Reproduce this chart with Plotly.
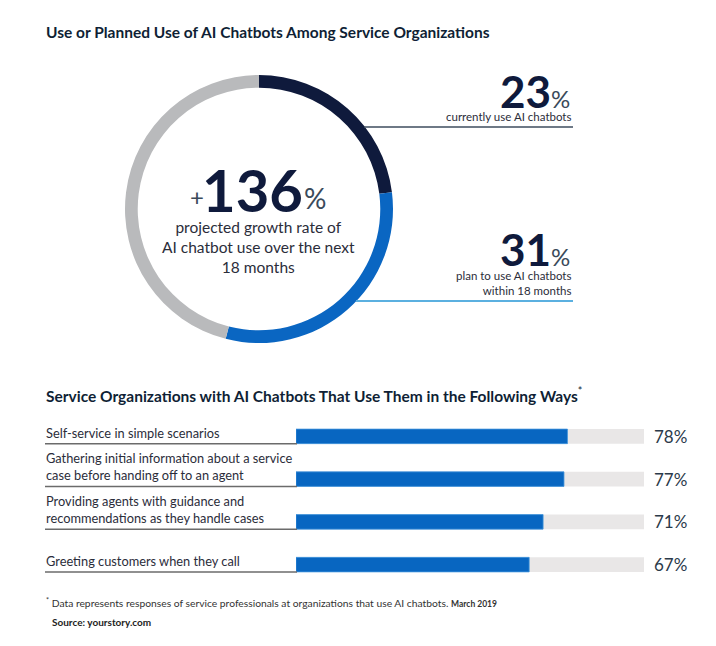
import plotly.graph_objects as go

W, H = 716, 646

# ---- data ----
donut_labels = ["Currently use AI chatbots", "Plan to use within 18 months", "Other"]
donut_values = [23, 31, 46]
donut_colors = ["#0f1a3c", "#0a66c2", "#b9babc"]

growth_value = "136"
current_pct = "23"
planned_pct = "31"

bar_categories = [
    "Self-service in simple scenarios",
    "Gathering initial information about a service<br>case before handing off to an agent",
    "Providing agents with guidance and<br>recommendations as they handle cases",
    "Greeting customers when they call",
]
bar_values = [78, 77, 71, 67]
bar_max = [100, 100, 100, 100]
rows = [0, 1, 2, 3]

def px(x):
    return x / W

def py(y):
    return 1 - y / H

fig = go.Figure()

# donut
cx, cy, r = 259, 209, 134
fig.add_trace(go.Pie(
    labels=donut_labels, values=donut_values, hole=0.905, sort=False,
    direction="clockwise", rotation=0,
    marker=dict(colors=donut_colors, line=dict(width=0)),
    textinfo="none", hoverinfo="label+value", showlegend=False,
    domain=dict(x=[px(cx - r), px(cx + r)], y=[py(cy + r), py(cy - r)]),
))

# bars
fig.add_trace(go.Bar(
    x=bar_max, y=rows, orientation="h", width=0.34,
    marker=dict(color="#e9e7e7", line=dict(width=0)),
    hoverinfo="skip", showlegend=False, xaxis="x", yaxis="y",
))
fig.add_trace(go.Bar(
    x=bar_values, y=rows, orientation="h", width=0.34,
    marker=dict(color="#0866c1", line=dict(width=0.8, color="#3f93dc")),
    showlegend=False, xaxis="x", yaxis="y",
))

ann = []
dark = "#0f1f35"
txt = "#2b2d3a"

ann.append(dict(x=px(44), y=py(32), xref="paper", yref="paper", xanchor="left", yanchor="middle",
                text="<b>Use or Planned Use of AI Chatbots Among Service Organizations</b>",
                showarrow=False, font=dict(family="Lato", size=15.5, color=dark)))
ann.append(dict(x=px(44), y=py(395), xref="paper", yref="paper", xanchor="left", yanchor="middle",
                text="<b>Service Organizations with AI Chatbots That Use Them in the Following Ways</b><sup>*</sup>",
                showarrow=False, font=dict(family="Lato", size=15.5, color=dark)))

# center text
ann.append(dict(x=px(253), y=py(189), xref="paper", yref="paper", xanchor="center", yanchor="middle",
                text="<b>" + growth_value + "</b>", showarrow=False,
                font=dict(family="Lato", size=58, color="#0f1a3c")))
ann.append(dict(x=px(197), y=py(197), xref="paper", yref="paper", xanchor="center", yanchor="middle",
                text="+", showarrow=False, font=dict(family="Lato", size=24, color="#3a4a5a")))
ann.append(dict(x=px(302), y=py(198), xref="paper", yref="paper", xanchor="left", yanchor="middle",
                text="%", showarrow=False, font=dict(family="Lato", size=28, color="#3a4a5a")))
ann.append(dict(x=px(258), y=py(247), xref="paper", yref="paper", xanchor="center", yanchor="middle",
                text="projected growth rate of<br>AI chatbot use over the next<br>18 months", showarrow=False,
                font=dict(family="Lato", size=15.5, color=txt)))

# right side stats
for val, y_num, lines, y_lines in [(current_pct, 91, "currently use AI chatbots", 117),
                                   (planned_pct, 249, "plan to use AI chatbots<br>within 18 months", 283)]:
    ann.append(dict(x=px(572), y=py(y_num), xref="paper", yref="paper", xanchor="right", yanchor="middle",
                    text="<b>" + val + "</b><span style='font-size:24px;fill:#3a4a5a'>%</span>",
                    showarrow=False, font=dict(family="Lato", size=44, color="#0f1a3c")))
    ann.append(dict(x=px(573), y=py(y_lines), xref="paper", yref="paper", xanchor="right", yanchor="middle",
                    text=lines, showarrow=False, align="right",
                    font=dict(family="Lato", size=11.5, color=txt)))

shapes = [
    dict(type="line", xref="paper", yref="paper", x0=px(364), x1=px(573), y0=py(127), y1=py(127),
         line=dict(color="#3e4d5e", width=1.5)),
    dict(type="line", xref="paper", yref="paper", x0=px(356), x1=px(573), y0=py(301), y1=py(301),
         line=dict(color="#5bb0e0", width=1.8)),
]

# bar labels, values, underlines
for i, cat in enumerate(bar_categories):
    ann.append(dict(x=px(44), y=i + 0.17, xref="paper", yref="y", xanchor="left", yanchor="bottom",
                    yshift=1, text=cat, showarrow=False, align="left",
                    font=dict(family="Lato", size=12.8, color=txt)))
    ann.append(dict(x=px(652), y=i, xref="paper", yref="y", xanchor="left", yanchor="middle",
                    text=f"{bar_values[i]}%", showarrow=False,
                    font=dict(family="Lato", size=17, color="#2b3a4a")))
    shapes.append(dict(type="line", xref="paper", yref="y", x0=px(45), x1=px(297),
                       y0=i + 0.17, y1=i + 0.17, line=dict(color="#6b6b6b", width=1.5)))

ann.append(dict(x=px(44), y=py(602), xref="paper", yref="paper", xanchor="left", yanchor="middle",
                text="<sup>*</sup> Data represents responses of service professionals at organizations that use AI chatbots. <b><span style='font-size:8.5px'>March 2019</span></b>",
                showarrow=False, font=dict(family="Lato", size=10.3, color="#333333")))
ann.append(dict(x=px(50), y=py(622), xref="paper", yref="paper", xanchor="left", yanchor="middle",
                text="<b>Source: yourstory.com</b>", showarrow=False,
                font=dict(family="Lato", size=10, color="#222222")))

fig.update_layout(
    width=W, height=H, margin=dict(l=0, r=0, t=0, b=0),
    paper_bgcolor="white", plot_bgcolor="white",
    barmode="overlay", showlegend=False,
    xaxis=dict(domain=[px(296), px(644)], range=[0, 100], visible=False, fixedrange=True),
    yaxis=dict(domain=[py(586), py(415)], range=[3.5, -0.5], visible=False, fixedrange=True),
    annotations=ann, shapes=shapes,
)

fig.write_html("out.html", config={"displayModeBar": False},
               post_script="document.body.style.margin='0';document.body.style.overflow='hidden';")
